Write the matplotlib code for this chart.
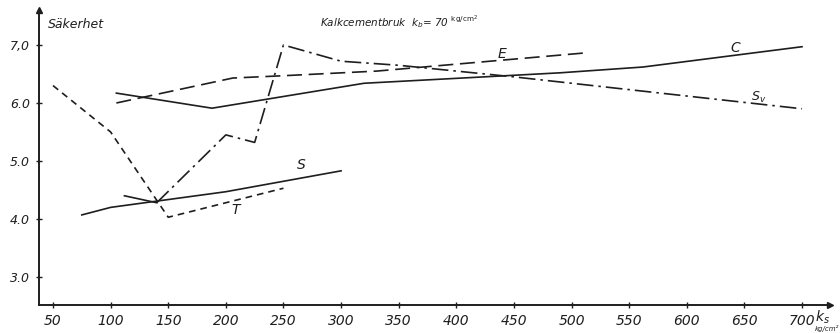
import matplotlib.pyplot as plt

# curve data (k_s in kg/cm2, safety factor)
c_x = [105, 188, 320, 490, 562, 700]
c_y = [6.17, 5.91, 6.34, 6.52, 6.62, 6.97]

e_x = [105, 206, 250, 331, 510]
e_y = [6.0, 6.43, 6.47, 6.55, 6.86]

sv_x = [112, 140, 200, 225, 250, 300, 350, 450, 700]
sv_y = [4.4, 4.28, 5.45, 5.32, 7.0, 6.72, 6.65, 6.45, 5.9]

s_x = [75, 100, 200, 300]
s_y = [4.07, 4.2, 4.47, 4.83]

t_x = [50, 100, 150, 250]
t_y = [6.3, 5.5, 4.03, 4.53]

xticks = [50, 100, 150, 200, 250, 300, 350, 400, 450, 500, 550, 600, 650, 700]
yticks = [3.0, 4.0, 5.0, 6.0, 7.0]
ylabels = ["3.0", "4.0", "5.0", "6.0", "7,0"]

ink = "#1e1e1e"
hand = dict(family="DejaVu Sans", style="italic", color=ink)

fig = plt.figure(figsize=(8.4, 3.33), dpi=100)
ax = fig.add_axes([39 / 840, 1 - 305 / 333, (830 - 39) / 840, (305 - 10) / 333])
ax.set_xlim(37.85, 724.3)
ax.set_ylim(2.517, 7.603)

lw = 1.2
ax.plot(c_x, c_y, color=ink, lw=lw)
ax.plot(s_x, s_y, color=ink, lw=lw)
ax.plot(e_x, e_y, color=ink, lw=lw, dashes=(9, 4))
ax.plot(t_x, t_y, color=ink, lw=lw, dashes=(4, 3))
# first bit of S_v is drawn solid, the rest dash-dot
ax.plot(sv_x[:2], sv_y[:2], color=ink, lw=lw)
ax.plot(sv_x[1:], sv_y[1:], color=ink, lw=lw, dashes=(10, 3, 1.5, 3))

for side in ["top", "right"]:
    ax.spines[side].set_visible(False)
for side in ["left", "bottom"]:
    ax.spines[side].set_color(ink)
    ax.spines[side].set_linewidth(1.4)

# arrow heads at the axis ends
ax.plot(1, 0, ">", color=ink, ms=5, transform=ax.transAxes, clip_on=False)
ax.plot(0, 1, "^", color=ink, ms=5, transform=ax.transAxes, clip_on=False)

ax.set_xticks(xticks)
ax.set_xticklabels([str(v) for v in xticks], fontsize=10, **hand)
ax.set_yticks(yticks)
ax.set_yticklabels(ylabels, fontsize=9, **hand)
ax.tick_params(direction="inout", length=5, width=1, color=ink, pad=4)

# curve labels, sitting on their lines as in the drawing
ax.text(436, 6.77, "E", fontsize=10, **hand)
ax.text(656, 6.04, "S$_v$", fontsize=9, **hand)
ax.text(638, 6.88, "C", fontsize=10, **hand)
ax.text(262, 4.87, "S", fontsize=10, **hand)
ax.text(205, 4.08, "T", fontsize=10, **hand)

fig.text(48 / 840, 1 - 28 / 333, "Säkerhet", fontsize=9, **hand)
fig.text(320 / 840, 1 - 27 / 333, r"Kalkcementbruk  $k_b$= 70 $^{\rm kg/cm^2}$", fontsize=7.5, **hand)
fig.text(815 / 840, 1 - 322 / 333, "$k_s$", fontsize=10, **hand)
fig.text(815 / 840, 1 - 333 / 333 + 0.005, "kg/cm²", fontsize=5, **hand)

fig.savefig("out.png", dpi=100)
